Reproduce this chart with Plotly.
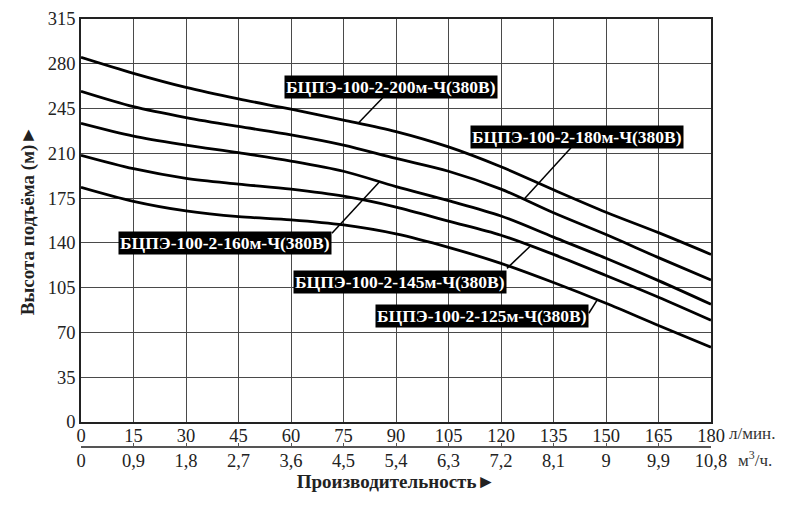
import numpy as np
import plotly.graph_objects as go

# flow, l/min and m3/h
flow_lpm = [0, 15, 30, 45, 60, 75, 90, 105, 120, 135, 150, 165, 180]
flow_m3h = [0, 0.9, 1.8, 2.7, 3.6, 4.5, 5.4, 6.3, 7.2, 8.1, 9, 9.9, 10.8]
head_ticks = [0, 35, 70, 105, 140, 175, 210, 245, 280, 315]

# head, m
h200 = [285, 272.5, 261.5, 252.5, 244.5, 236, 227, 215, 199.5, 181.5, 164, 148, 131]
h180 = [258.5, 246.5, 238, 231, 224.5, 216.5, 206, 196, 182, 163.5, 146.5, 128.5, 111]
h160 = [233.5, 223.5, 216.5, 210.5, 204, 196, 184, 173, 161, 144.5, 128, 110.5, 92]
h145 = [208.5, 198, 190.5, 186, 182, 176.5, 168, 157, 146, 131, 114.5, 97.5, 79.5]
h125 = [183.5, 172.5, 165, 160.5, 158, 154, 147, 136.5, 124, 109, 92.8, 75.5, 58.5]

models = ['БЦПЭ-100-2-200м-Ч(380В)', 'БЦПЭ-100-2-180м-Ч(380В)',
          'БЦПЭ-100-2-160м-Ч(380В)', 'БЦПЭ-100-2-145м-Ч(380В)',
          'БЦПЭ-100-2-125м-Ч(380В)']
heads = [h200, h180, h160, h145, h125]

# label box centre, leader start, flow where leader meets curve
label_pos = [(88.5, 261.8), (141.8, 223.0), (41.2, 139.9), (91.2, 109.8), (114.7, 82.9)]
leader_start = [(86.4, 254.0), (140.0, 214.4), (71.7, 147.5), (121.7, 120.1), (145.1, 85.0)]
leader_end_q = [79.2, 126.5, 85.3, 128.4, 147.5]

serif = 'Liberation Serif'
grid = '#4a4a4a'

fig = go.Figure()
for name, h in zip(models, heads):
    fig.add_scatter(x=flow_lpm, y=h, mode='lines', name=name,
                    line=dict(color='black', width=2.8, shape='spline', smoothing=0.9),
                    showlegend=False)

# invisible trace so the m3/h axis gets drawn
fig.add_scatter(x=[flow_lpm[0], flow_lpm[-1]], y=[0, 0], xaxis='x2', mode='markers',
                marker=dict(opacity=0), showlegend=False, hoverinfo='skip')

for name, h, (cx, cy), (sx, sy), eq in zip(models, heads, label_pos, leader_start, leader_end_q):
    fig.add_shape(type='line', x0=sx, y0=sy, x1=eq, y1=float(np.interp(eq, flow_lpm, h)),
                  line=dict(color='black', width=1.5))
    fig.add_annotation(x=cx, y=cy, text=name, showarrow=False, bgcolor='black',
                       borderpad=1, font=dict(family=serif, size=17.5, color='white', weight='bold'))

fig.add_annotation(xref='paper', yref='paper', x=1.026, y=0.0800, text='л/мин.',
                   showarrow=False, xanchor='left', yanchor='middle',
                   font=dict(family=serif, size=17, color='#333'))
fig.add_annotation(xref='paper', yref='paper', x=1.040, y=0.0250, text='м<sup>3</sup>/ч.',
                   showarrow=False, xanchor='left', yanchor='middle',
                   font=dict(family=serif, size=17, color='#333'))

# page body adds 8px, so margins are set 8px smaller on the left and top
fig.update_layout(
    width=790, height=511,
    margin=dict(l=73, r=87, t=11, b=49, autoexpand=False),
    paper_bgcolor='white', plot_bgcolor='white',
    font=dict(family=serif, size=18, color='#222'),
    xaxis=dict(range=[0, 180], tickvals=flow_lpm, ticks='', showgrid=True,
               gridcolor=grid, gridwidth=1.2, zeroline=False, showline=True,
               linecolor='#222', linewidth=1.5, mirror=True, anchor='y',
               automargin=False, tickfont=dict(size=18.5), ticklabelstandoff=-4),
    xaxis2=dict(range=[0, 180], overlaying='x', anchor='free', position=0.050,
                side='bottom', tickvals=flow_lpm,
                ticktext=[f'{v:g}'.replace('.', ',') for v in flow_m3h],
                showgrid=False, zeroline=False, showline=True, linecolor='#555',
                linewidth=1.5, ticks='inside', ticklen=4, tickcolor='#555', tickwidth=1.2,
                automargin=False, tickfont=dict(size=18.5), ticklabelstandoff=-3,
                title=dict(text='Производительность►', standoff=0,
                           font=dict(size=19, weight='bold', color='#222'))),
    yaxis=dict(range=[0, 315], tickvals=head_ticks, domain=[0.1064, 1], ticks='',
               showgrid=True, gridcolor=grid, gridwidth=1.2, zeroline=False,
               showline=True, linecolor='#222', linewidth=1.5, mirror=True,
               automargin=False, tickfont=dict(size=18.5),
               title=dict(text='Высота подъёма (м)►', standoff=8,
                          font=dict(size=19, weight='bold', color='#222'))),
)

fig.write_html('out.html')
